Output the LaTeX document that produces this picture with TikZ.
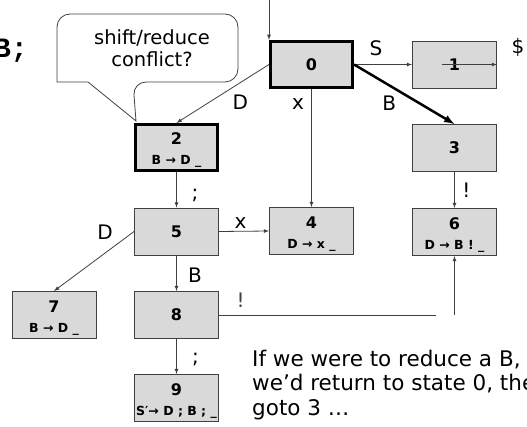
\documentclass[tikz,border=0pt]{standalone}
\usepackage{fontspec}
\setmainfont{DejaVu Sans}
\newfontfamily\codefont{Liberation Mono}
\definecolor{boxgray}{RGB}{217,217,217}
\definecolor{linegray}{RGB}{64,64,64}
\newcommand{\stnum}[1]{{\fontsize{16}{16}\selectfont\bfseries #1}}
\newcommand{\stitem}[1]{{\fontsize{12.5}{13}\selectfont\bfseries #1}}
\newcommand{\twoline}[2]{\stnum{\rule{0pt}{17pt}#1}\\\stitem{#2}}

\begin{document}
\begin{tikzpicture}[x=1pt,y=-1pt,
	state/.style={draw=linegray, fill=boxgray, line width=0.9pt, minimum width=84pt, minimum height=47pt, inner sep=0pt, align=center, font=\fontsize{10}{20}\selectfont},
	start/.style={state, draw=black, line width=2.6pt, minimum width=82.5pt, minimum height=46.5pt},
	edge/.style={-latex, draw=linegray, line width=0.8pt},
	lbl/.style={font=\fontsize{20}{20}\selectfont, inner sep=0pt}]
	\useasboundingbox (0,0) rectangle (527,427);
	\clip (0,0) rectangle (527,427);

	% the states
	\node[start] (s0) at (311.5,64.5) {\stnum{0}};
	\node[state] (s1) at (454.5,64.5) {\stnum{1}};
	\node[start] (s2) at (176.5,147.5) {\twoline{2}{B → D \_}};
	\node[state] (s3) at (454.5,148) {\stnum{3}};
	\node[state] (s4) at (311.5,231) {\twoline{4}{D → x \_}};
	\node[state] (s5) at (176.5,231.5) {\stnum{5}};
	\node[state] (s6) at (454.5,232) {\twoline{6}{D → B ! \_}};
	\node[state] (s7) at (54,315) {\twoline{7}{B → D \_}};
	\node[state] (s8) at (176.5,315) {\stnum{8}};
	\node[state] (s9) at (176.5,398) {\twoline{9}{S′→ D ; B ; \_}};

	% transitions
	\coordinate (init) at (269,0);
	\draw[edge] (init) -- (init |- s0.north);
	\draw[edge] (s0.east) -- node[lbl, pos=0.38, shift={(0,-16)}] {S} (s1.west);
	\coordinate (acc) at (442,64.5);
	\draw[edge] (acc) -- (s1.east) node[lbl, shift={(21,-17)}] {\$};
	\draw[edge, draw=black, line width=2.5pt] (s0.east) -- node[lbl, pos=0.35, shift={(0,18)}] {B} (s3.north);
	\draw[edge] (s0.west) -- node[lbl, pos=0.3, shift={(-1,20)}] {D} (s2.north);
	\draw[edge] (s0.south) -- node[lbl, pos=0.1, shift={(-13.5,3)}] {x} (s4.north);
	\draw[edge] (s2.south) -- node[lbl, shift={(18.5,5.5)}] {;} (s5.north);
	\draw[edge] (s3.south) -- node[lbl, shift={(12,0)}] {!} (s6.north);
	\draw[edge] (s5.east) -- node[lbl, pos=0.43, shift={(0,-8)}] {x} (s4.west);
	\draw[edge] (s5.west) -- node[lbl, pos=0.1, shift={(-21,-5)}] {D} (s7.north);
	\draw[edge] (s5.south) -- node[lbl, shift={(18.5,1.5)}] {B} (s8.north);
	\coordinate (bang) at (436,315);
	\coordinate (up) at (454.5,315);
	\draw[linegray, line width=0.8pt] (s8.east) -- node[lbl, pos=0.1, shift={(0,-15)}] {!} (bang);
	\draw[edge] (up) -- (s6.south);
	\draw[edge] (s8.south) -- node[lbl, shift={(19,3)}] {;} (s9.north);

	% callout
	\coordinate (tip) at (136,121);
	\draw[linegray, fill=white, line width=0.8pt] (tip) -- (88,82) -- (57,82) [rounded corners=13pt] -- (57,14) -- (238,14) -- (238,82) -- (133,82) [sharp corners] -- cycle;
	\node[font=\fontsize{19.5}{22}\selectfont, align=center] (note) at (152,48) {shift/reduce\\conflict?};

	% texts
	\node[font=\codefont\bfseries\fontsize{28}{28}\selectfont, anchor=base east, inner sep=0pt] (prod) at (28,58) {B;};
	\node[font=\fontsize{21.5}{24.5}\selectfont, align=left, anchor=north west, inner sep=0pt] (remark) at (252,349.5) {If we were to reduce a B,\\we’d return to state 0, then\\goto 3 …};
\end{tikzpicture}
\end{document}
